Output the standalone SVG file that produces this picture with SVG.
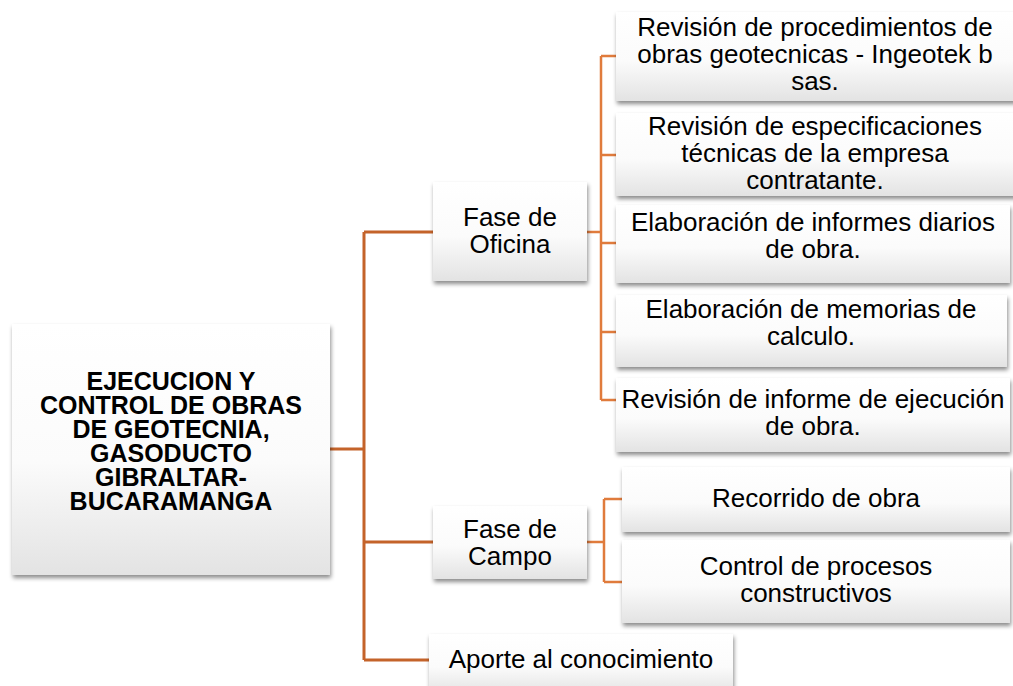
<svg xmlns="http://www.w3.org/2000/svg" width="1013" height="686" viewBox="0 0 1013 686">
<defs>
<linearGradient id="g" x1="0" y1="0" x2="0" y2="1">
<stop offset="0" stop-color="#ffffff"/>
<stop offset="0.55" stop-color="#fbfbfb"/>
<stop offset="1" stop-color="#e3e3e3"/>
</linearGradient>
<filter id="sh" x="-10%" y="-10%" width="125%" height="130%">
<feDropShadow dx="1" dy="3" stdDeviation="2" flood-color="#000" flood-opacity="0.45"/>
</filter>
</defs>
<style>
.box{fill:url(#g);filter:url(#sh);}
.t{font-family:"Liberation Sans",Arial,sans-serif;font-size:26px;fill:#000;text-anchor:middle;}
.b{font-family:"Liberation Sans",Arial,sans-serif;font-size:25px;font-weight:bold;fill:#000;text-anchor:middle;}
.c1{stroke:#C4632A;stroke-width:3;fill:none;}
.c2{stroke:#E07B3C;stroke-width:2.5;fill:none;}
</style>
<rect width="1013" height="686" fill="#fff"/>
<g id="connectors">
<path class="c1" d="M330 449H364M364 232V660M364 232H433M364 542H433M364 660H429"/>
<path class="c2" d="M587 232H601M601 56V400M601 56H616M601 155H616M601 243H616M601 332H616M601 400H616"/>
<path class="c2" d="M587 542H604M604 499V582M604 499H622M604 582H622"/>
</g>
<g id="root">
<rect class="box" x="12" y="324" width="318" height="251"/>
<text class="b" x="171" y="390">EJECUCION Y</text>
<text class="b" x="171" y="414">CONTROL DE OBRAS</text>
<text class="b" x="171" y="438">DE GEOTECNIA,</text>
<text class="b" x="171" y="462">GASODUCTO</text>
<text class="b" x="171" y="486">GIBRALTAR-</text>
<text class="b" x="171" y="510">BUCARAMANGA</text>
</g>
<g id="oficina">
<rect class="box" x="433" y="182" width="154" height="99"/>
<text class="t" x="510" y="226">Fase de</text>
<text class="t" x="510" y="253">Oficina</text>
</g>
<g id="campo">
<rect class="box" x="433" y="506" width="154" height="73"/>
<text class="t" x="510" y="538">Fase de</text>
<text class="t" x="510" y="565">Campo</text>
</g>
<g id="aporte">
<rect class="box" x="429" y="634" width="304" height="60"/>
<text class="t" x="581" y="668">Aporte al conocimiento</text>
</g>
<g id="of1">
<rect class="box" x="616" y="12" width="400" height="89"/>
<text class="t" x="815" y="36">Revisión de procedimientos de</text>
<text class="t" x="815" y="63">obras geotecnicas - Ingeotek b</text>
<text class="t" x="815" y="90">sas.</text>
</g>
<g id="of2">
<rect class="box" x="616" y="113" width="400" height="83"/>
<text class="t" x="815" y="135">Revisión de especificaciones</text>
<text class="t" x="815" y="162">técnicas de la empresa</text>
<text class="t" x="815" y="189">contratante.</text>
</g>
<g id="of3">
<rect class="box" x="616" y="205" width="394" height="78"/>
<text class="t" x="813" y="231">Elaboración de informes diarios</text>
<text class="t" x="813" y="258">de obra.</text>
</g>
<g id="of4">
<rect class="box" x="616" y="295" width="391" height="72"/>
<text class="t" x="811" y="318">Elaboración de memorias de</text>
<text class="t" x="811" y="345">calculo.</text>
</g>
<g id="of5">
<rect class="box" x="616" y="378" width="394" height="74"/>
<text class="t" x="813" y="408">Revisión de informe de ejecución</text>
<text class="t" x="813" y="435">de obra.</text>
</g>
<g id="ca1">
<rect class="box" x="622" y="467" width="388" height="65"/>
<text class="t" x="816" y="507">Recorrido de obra</text>
</g>
<g id="ca2">
<rect class="box" x="622" y="540" width="388" height="83"/>
<text class="t" x="816" y="575">Control de procesos</text>
<text class="t" x="816" y="602">constructivos</text>
</g>
</svg>
